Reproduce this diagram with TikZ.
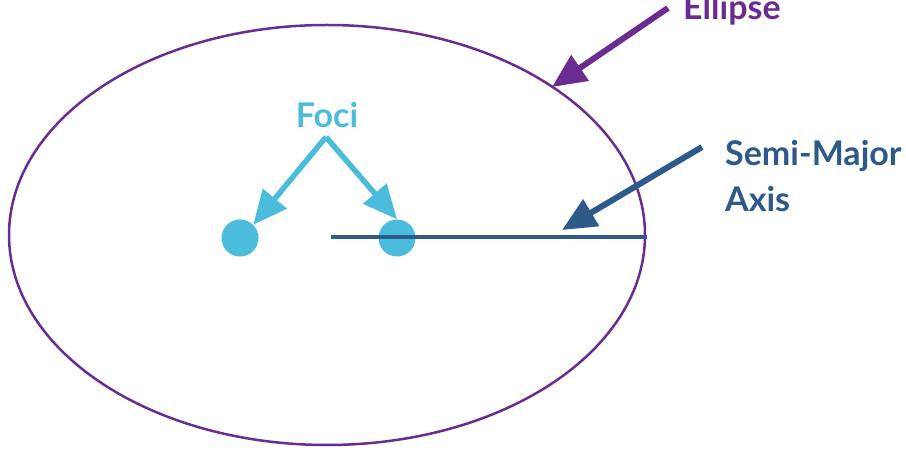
\documentclass[tikz,border=0pt]{standalone}
\usepackage{fontspec}
\setmainfont{Lato}
\usetikzlibrary{arrows.meta,shapes.geometric}
\definecolor{epurple}{HTML}{6B2C91}
\definecolor{flblue}{HTML}{4BBCDC}
\definecolor{axblue}{HTML}{2D5A8A}
\tikzset{
  lbl/.style={inner sep=0pt, font=\fontsize{34}{40}\selectfont\bfseries},
  bigarrow/.style={line width=6pt, -{Triangle[length=34pt,width=30pt]}},
  focus/.style={circle, fill=flblue, draw=none, minimum size=37pt, inner sep=0pt},
}
\begin{document}
\begin{tikzpicture}[x=1pt,y=-1pt]
\useasboundingbox (0,0) rectangle (906,454);
\node[ellipse, draw=epurple, line width=2.5pt, minimum width=636pt, minimum height=420pt, inner sep=0pt] (ell) at (327,235) {};
\node[focus] (f1) at (240,238) {};
\node[focus] (f2) at (397,238) {};
\coordinate (axl) at (331,237);
\coordinate (axr) at (647,237);
\draw[axblue, line width=4pt] (axl) -- (axr);
\node[lbl, text=epurple, anchor=base west] (tell) at (683,20) {Ellipse};
\node[lbl, text=flblue, anchor=base] (tfoci) at (327,128) {Foci};
\node[lbl, text=axblue, anchor=base west] (tsm) at (725,166) {Semi-Major};
\node[lbl, text=axblue, anchor=base west] (tax) at (725,212) {Axis};
\coordinate (es) at (668,8);
\coordinate (ee) at (552,87);
\coordinate (fs) at (326,137);
\coordinate (ss) at (702,147);
\coordinate (se) at (562,230);
\draw[bigarrow, epurple] (es) -- (ee);
\draw[bigarrow, flblue, line width=5.5pt] (fs) -- (f1.north east);
\draw[bigarrow, flblue, line width=5.5pt] (fs) -- (f2.north);
\draw[bigarrow, axblue] (ss) -- (se);
\end{tikzpicture}
\end{document}
